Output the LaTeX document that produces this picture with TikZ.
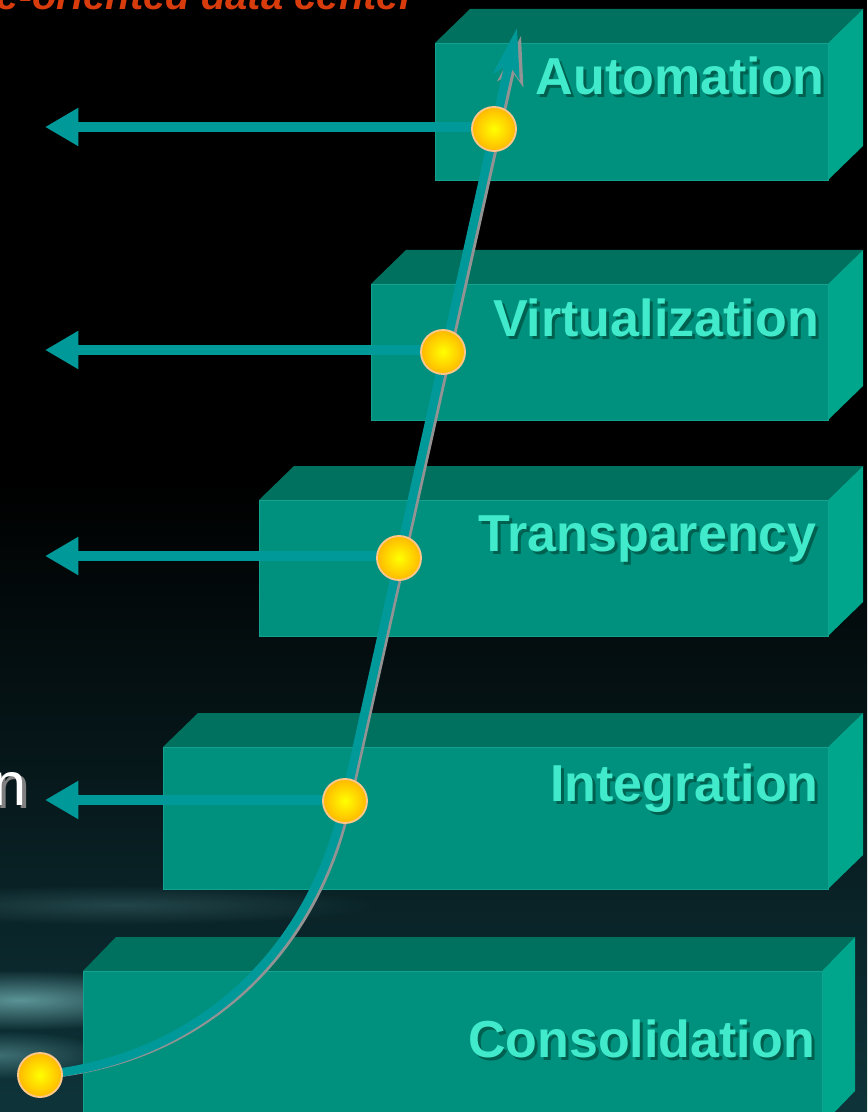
\documentclass[tikz,border=0pt]{standalone}
\usepackage{fontspec}
\setmainfont{Liberation Sans}
\usetikzlibrary{arrows.meta,fadings}
\definecolor{bgteal}{HTML}{0E343A}
\definecolor{streak}{HTML}{6FAEB0}
\definecolor{boxfront}{HTML}{00917E}
\definecolor{boxtop}{HTML}{00705F}
\definecolor{boxside}{HTML}{00A68B}
\definecolor{boxedge}{HTML}{12A290}
\definecolor{lineteal}{HTML}{00999A}
\definecolor{lbltext}{HTML}{40EACB}
\definecolor{lblshadow}{HTML}{00604F}
\definecolor{dotedge}{HTML}{FFC88A}
\definecolor{dotout}{HTML}{FFB800}
\definecolor{titleorange}{HTML}{D83C0C}
\tikzfading[name=softedge,inner color=transparent!0,outer color=transparent!100]
\pgfdeclarelayer{back}
\pgfdeclarelayer{lines}
\pgfsetlayers{back,lines,main}
\newcommand\stepblock[6]{%
  \fill[boxtop] (#1,#2) -- ++(#5,-#6) -- ({#3+#5},{#2-#6}) -- (#3,#2) -- cycle;
  \fill[boxside] (#3,#2) -- ++(#5,-#6) -- ({#3+#5},{#4-#6}) -- (#3,#4) -- cycle;
  \fill[boxfront,draw=boxedge,line width=0.6pt] (#1,#2) rectangle (#3,#4);
}
\begin{document}
\begin{tikzpicture}[x=0.75pt,y=-0.75pt,
  dot/.style={circle,inner sep=0pt,minimum size=33pt,draw=dotedge,line width=1.4pt,
    shading=radial,inner color=yellow,outer color=dotout},
  harrow/.style={draw=lineteal,line width=7.5pt,-{Triangle[length=25pt,width=27pt]}},
  curvemain/.style={draw=lineteal,line width=6.5pt,-{Stealth[length=37pt,width=20pt,inset=9pt]}},
  curveshadow/.style={draw=gray!85,line width=2.6pt,-{Stealth[length=37pt,width=20pt,inset=9pt]}},
  lbl/.style={inner sep=0pt,anchor=base east,text=lbltext,font=\fontsize{39}{39}\selectfont\bfseries},
  lblsh/.style={inner sep=0pt,anchor=base east,text=lblshadow,font=\fontsize{39}{39}\selectfont\bfseries}]
\useasboundingbox (0,0) rectangle (867,1112);
\clip (0,0) rectangle (867,1112);
\begin{pgfonlayer}{back}
\fill[black] (0,0) rectangle (867,1112);
\shade[top color=black,bottom color=bgteal] (0,480) rectangle (867,1112);
\fill[streak,path fading=softedge,opacity=0.8] (20,1000) ellipse [x radius=170,y radius=30];
\fill[streak,path fading=softedge,opacity=0.5] (0,1055) ellipse [x radius=110,y radius=24];
\fill[streak,path fading=softedge,opacity=0.25] (120,905) ellipse [x radius=260,y radius=20];
\node[inner sep=0pt,anchor=base east,text=titleorange,font=\fontsize{30}{30}\selectfont\bfseries\itshape] (title) at (415,10) {Service-oriented data center};
\node[inner sep=0pt,anchor=base east,text=gray,font=\fontsize{46}{46}\selectfont] (leftsh) at (31,808) {on};
\node[inner sep=0pt,anchor=base east,text=white,font=\fontsize{46}{46}\selectfont] (left) at (27,805) {on};
\stepblock{435}{43}{828}{180}{35}{34}
\stepblock{371}{284}{828}{420}{35}{34}
\stepblock{259}{500}{828}{636}{35}{34}
\stepblock{163}{747}{828}{889}{35}{34}
\stepblock{83}{971}{822}{1125}{33}{34}
\node[lblsh] at (828,98) {Automation};
\node[lbl] (tA) at (825,95) {Automation};
\node[lblsh] at (822,339) {Virtualization};
\node[lbl] (tV) at (819,336) {Virtualization};
\node[lblsh] at (820,554) {Transparency};
\node[lbl] (tT) at (817,551) {Transparency};
\node[lblsh] at (822,804) {Integration};
\node[lbl] (tI) at (819,801) {Integration};
\node[lblsh] at (818,1060) {Consolidation};
\node[lbl] (tC) at (815,1057) {Consolidation};
\end{pgfonlayer}
% dots
\node[dot] (p0) at (40,1075) {};
\node[dot] (p4) at (345,801) {};
\node[dot] (p3) at (399,558) {};
\node[dot] (p2) at (443,352) {};
\node[dot] (p1) at (494,129) {};
\coordinate (tip) at (517,28);
\coordinate (a1) at (45,127);
\coordinate (a2) at (45,350);
\coordinate (a3) at (45,556);
\coordinate (a4) at (45,800);
\begin{pgfonlayer}{lines}
\draw[harrow] (p1.center |- a1) -- (a1);
\draw[harrow] (p2.center |- a2) -- (a2);
\draw[harrow] (p3.center |- a3) -- (a3);
\draw[harrow] (p4.center |- a4) -- (a4);
\draw[curveshadow] ([xshift=4pt,yshift=-1.5pt]p0.center) .. controls (206,1062) and (318,953) .. ([xshift=4pt]p4.center) -- ([xshift=3pt,yshift=-6pt]tip);
\draw[curvemain] (p0.center) .. controls (200,1060) and (312,951) .. (p4.center) -- (tip);
\end{pgfonlayer}
\end{tikzpicture}
\end{document}
